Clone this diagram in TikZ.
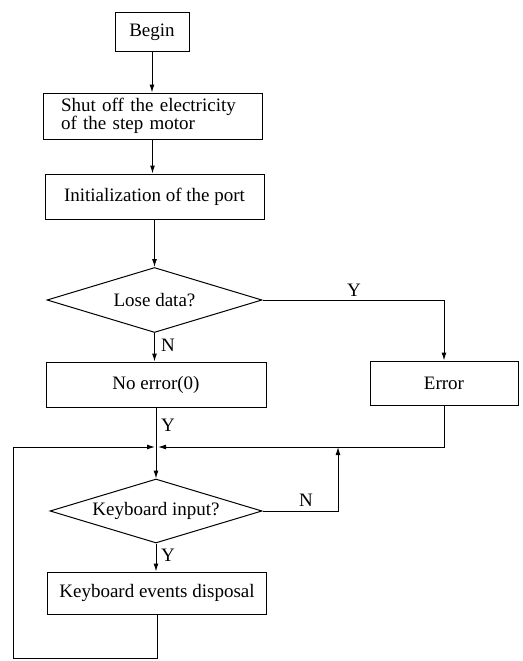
\documentclass[tikz,border=0pt]{standalone}
\usepackage{fontspec}
\setmainfont{Liberation Serif}
\usetikzlibrary{shapes.geometric,arrows.meta}
\begin{document}
\begin{tikzpicture}[x=1pt,y=-1pt,
  box/.style={draw,line width=1pt,inner sep=0pt},
  test/.style={draw,diamond,aspect=3.3,line width=1pt,inner sep=0pt},
  flow/.style={line width=1pt,-{Latex[length=8pt,width=5pt]}},
  lbl/.style={inner sep=0pt}]
\tikzstyle{every node}+=[font=\fontsize{19}{19}\selectfont]
\useasboundingbox (0,0) rectangle (522,661);
% boxes and tests
\node [box,minimum width=74pt,minimum height=39pt] (begin) at (152,32.5) {Begin};
\node [box,text width=183pt,inner xsep=18pt,minimum height=46pt,align=left,
  font=\fontsize{19}{14}\selectfont] (shut) at (152.5,116)
  {Shut off the electricity\\of the step motor};
\node [box,minimum width=219pt,minimum height=45pt] (init) at (154.5,196.5) {Initialization of the port};
\node [test,minimum width=215pt,minimum height=65pt] (lose) at (154.5,300) {Lose data?};
\node [box,minimum width=220pt,minimum height=45pt] (noerr) at (156,384.5) {No error(0)};
\node [box,minimum width=148pt,minimum height=44pt] (error) at (444,383) {Error};
\node [test,minimum width=212pt,minimum height=64pt] (kb) at (156,511) {Keyboard input?};
\node [box,minimum width=219pt,minimum height=42pt] (keys) at (157,593) {Keyboard events disposal};
% points on the connectors
\coordinate (jl) at (155,447);
\coordinate (jr) at (158,447);
\coordinate (nup) at (338,447);
\coordinate (loop) at (13,658);
% connectors
\draw [flow] (begin.south) -- (begin.south |- shut.north);
\draw [flow] (shut.south) -- (shut.south |- init.north);
\draw [flow] (init.south) -- (lose.north);
\draw [flow] (lose.south) -- (lose.south |- noerr.north);
\draw [flow] (lose.east) -| (error.north);
\draw [flow] (noerr.south) -- (kb.north);
\draw [flow] (error.south) |- (jr);
\draw [flow] (kb.east) -| (nup);
\draw [flow] (kb.south) -- (kb.south |- keys.north);
\draw [flow] (keys.south) |- (loop) |- (jl);
% labels
\node [lbl] (ylose) at (354,290) {Y};
\node [lbl] (nlose) at (168,345) {N};
\node [lbl] (ynoerr) at (168,425) {Y};
\node [lbl] (nkb) at (306,500) {N};
\node [lbl] (ykb) at (168,555) {Y};
\end{tikzpicture}
\end{document}
